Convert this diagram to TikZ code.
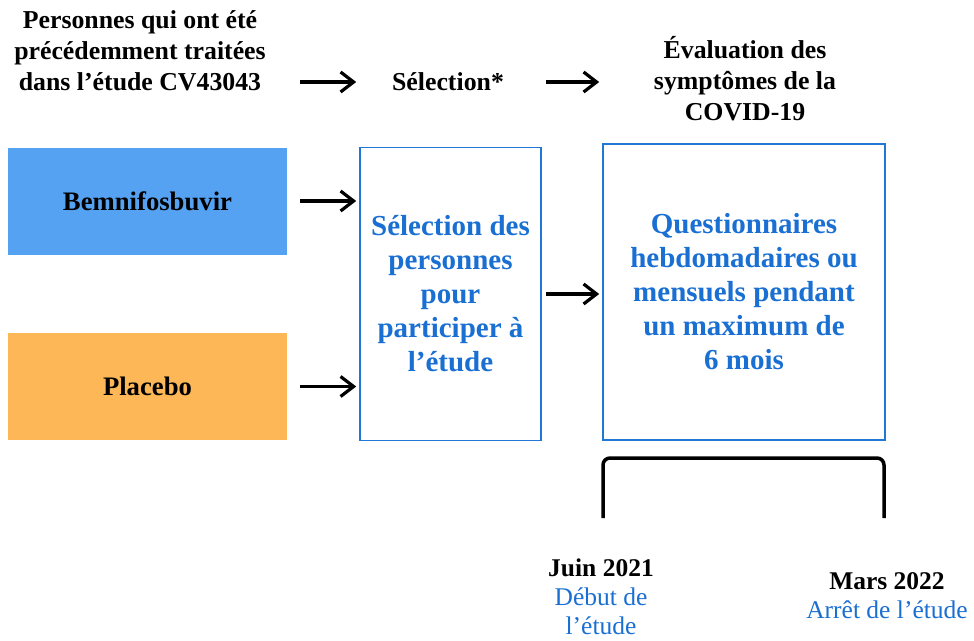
\documentclass[tikz,border=0pt]{standalone}
\usepackage{xcolor}
\usepackage{fontspec}
\setmainfont{Liberation Serif}
\usetikzlibrary{arrows.meta,positioning}

\definecolor{bemniblue}{HTML}{55A2F2}
\definecolor{placeboorange}{HTML}{FDB756}
\definecolor{textblue}{HTML}{1A6FD2}
\definecolor{frameblue}{HTML}{2177D6}

\begin{document}
\begin{tikzpicture}[
    x=1pt, y=-1pt,
    head/.style={align=center, font=\fontsize{25.8}{31}\selectfont\bfseries},
    arm/.style={rectangle, minimum width=279pt, minimum height=107pt, inner sep=0pt, font=\fontsize{26.7}{31}\selectfont\bfseries},
    stage/.style={rectangle, draw=frameblue, line width=1.6pt, text=textblue, align=center, font=\fontsize{29}{34}\selectfont\bfseries},
    date/.style={align=center, font=\fontsize{25.5}{29}\selectfont},
    arrow/.style={-{Straight Barb[length=13pt, width=20pt]}, line width=3.2pt}
]
\useasboundingbox (0,0) rectangle (974,640);

% Column headers
\node[head] (prev) at (140,51) {Personnes qui ont été\\précédemment traitées\\dans l’étude CV43043};
\node[head] (hsel) at (448,82) {Sélection*};
\node[head] (heval) at (745,79) {Évaluation des\\symptômes de la\\COVID-19};

% Treatment arms
\node[arm, fill=bemniblue] (bemni) at (147.5,201) {Bemnifosbuvir};
\node[arm, fill=placeboorange] (placebo) at (147.5,386.5) {Placebo};

% Study stages
\node[stage, minimum width=181pt, minimum height=293pt] (select) at (450.5,294) {Sélection des\\personnes\\pour\\participer à\\l’étude};
\node[stage, minimum width=282pt, minimum height=296pt] (evalbox) at (744,292) {Questionnaires\\hebdomadaires ou\\mensuels pendant\\un maximum de\\6 mois};

% Connections
\draw[arrow, shorten <=13pt, shorten >=3pt] (bemni.east |- hsel) -- (select.west |- hsel);
\draw[arrow, shorten <=4pt, shorten >=3pt] (select.east |- hsel) -- (evalbox.west |- hsel);
\draw[arrow, shorten <=13pt, shorten >=3pt] (bemni.east) -- (bemni.east -| select.west);
\draw[arrow, shorten <=13pt, shorten >=3pt] (placebo.east) -- (placebo.east -| select.west);
\draw[arrow, shorten <=4pt, shorten >=3pt] (select.east) -- (select.east -| evalbox.west);

% Timeline bracket
\draw[line width=3.5pt, rounded corners=7pt] (603,518) -- (603,458) -- (884,458) -- (884,518);

% Dates
\node[date] (start) at (601,597) {\textbf{Juin 2021}\\\textcolor{textblue}{Début de}\\\textcolor{textblue}{l’étude}};
\node[date] (stop) at (887,596) {\textbf{Mars 2022}\\\textcolor{textblue}{Arrêt de l’étude}};
\end{tikzpicture}
\end{document}
